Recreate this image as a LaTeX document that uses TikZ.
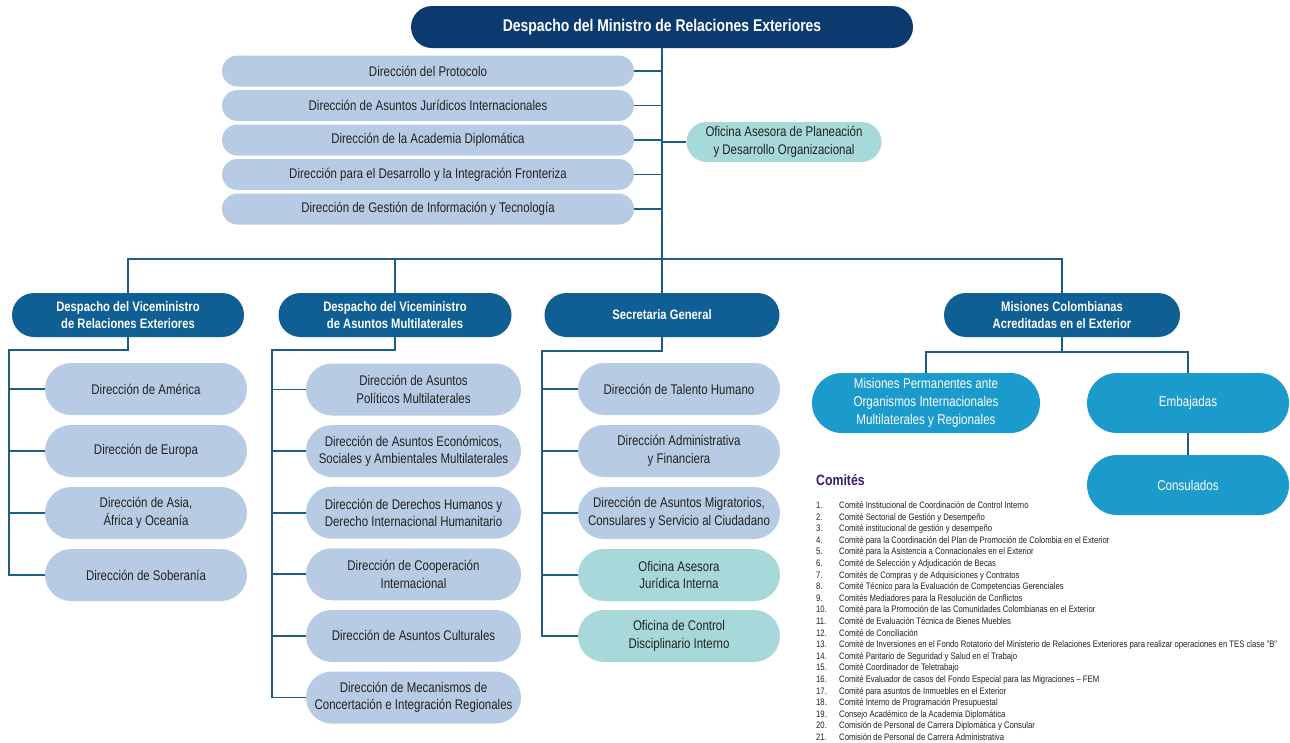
\documentclass[tikz,border=0pt]{standalone}
\usepackage{fontspec}
\setmainfont{Liberation Sans}[FakeStretch=0.82]
\usepackage{xcolor}
\usepackage{tikz}
\definecolor{navy}{HTML}{0B3A6E}
\definecolor{blueH}{HTML}{0F5E94}
\definecolor{paleB}{HTML}{B8CBE4}
\definecolor{tealA}{HTML}{A8D9DA}
\definecolor{cyanM}{HTML}{1B9BCB}
\definecolor{wire}{HTML}{1E5C86}
\definecolor{ink}{HTML}{222222}
\definecolor{comP}{HTML}{3A1C6E}
\tikzset{
  link/.style={draw=wire, line width=1.8pt},
  top/.style={rectangle, rounded corners=21pt, fill=navy, text=white, minimum width=502pt, minimum height=42pt, inner sep=0pt, font=\bfseries\fontsize{17}{20}\selectfont},
  head/.style={rectangle, rounded corners=22pt, fill=blueH, text=white, minimum width=233pt, minimum height=44pt, inner sep=0pt, align=center, font=\bfseries\fontsize{13.7}{17}\selectfont},
  staff/.style={rectangle, rounded corners=15.5pt, fill=paleB, text=ink, minimum width=412pt, minimum height=31pt, inner sep=0pt, font=\fontsize{14}{17}\selectfont},
  unit/.style={rectangle, rounded corners=26pt, fill=paleB, text=ink, minimum width=202pt, minimum height=52pt, inner sep=0pt, align=center, font=\fontsize{14}{17.5}\selectfont},
  advice/.style={unit, fill=tealA},
  mision/.style={unit, fill=cyanM, text=white, minimum height=60pt, rounded corners=30pt, font=\fontsize{14.2}{18.2}\selectfont},
  num/.style={anchor=base west, inner sep=0pt, text=ink, font=\fontsize{9.4}{11}\selectfont},
  comtitle/.style={anchor=base west, inner sep=0pt, text=comP, font=\bfseries\fontsize{15}{18}\selectfont}
}

\begin{document}
\begin{tikzpicture}[x=1pt,y=-1pt]
  \fill[white] (0,0) rectangle (1290,742);
  \useasboundingbox (0,0) rectangle (1290,742);

  % despacho del ministro y asesores
  \node[top] (min) at (662,27) {Despacho del Ministro de Relaciones Exteriores};
  \node[staff] (dProt) at (428,71) {Dirección del Protocolo};
  \node[staff] (dJur) at (428,105.5) {Dirección de Asuntos Jurídicos Internacionales};
  \node[staff] (dAcad) at (428,140) {Dirección de la Academia Diplomática};
  \node[staff] (dFront) at (428,174.5) {Dirección para el Desarrollo y la Integración Fronteriza};
  \node[staff] (dTic) at (428,209) {Dirección de Gestión de Información y Tecnología};
  \node[advice, minimum width=195pt, minimum height=40pt, rounded corners=20pt, font=\fontsize{14}{18.5}\selectfont] (oPlan) at (784,142) {Oficina Asesora de Planeación\\y Desarrollo Organizacional};

  % segundo nivel
  \node[head, minimum width=232pt] (vRE) at (128,315) {Despacho del Viceministro\\de Relaciones Exteriores};
  \node[head] (vMul) at (395,315) {Despacho del Viceministro\\de Asuntos Multilaterales};
  \node[head, minimum width=235pt] (sGen) at (662,315) {Secretaria General};
  \node[head, minimum width=236pt] (mis) at (1062,315) {Misiones Colombianas\\Acreditadas en el Exterior};

  \coordinate (bus) at (662,259);
  \draw[link] (min) -- (sGen);
  \draw[link] (vRE.north) |- (bus) -| (mis.north);
  \draw[link] (vMul.north) -- (vMul.north |- bus);
  \foreach \n in {dProt,dJur,dAcad,dFront,dTic}
    \draw[link] (\n.east) -- (\n.east -| min.south);
  \draw[link] (oPlan.west) -- (oPlan.west -| min.south);

  % viceministro de relaciones exteriores
  \node[unit] (dAme) at (146,389) {Dirección de América};
  \node[unit] (dEur) at (146,451) {Dirección de Europa};
  \node[unit] (dAsia) at (146,513) {Dirección de Asia,\\África y Oceanía};
  \node[unit] (dSob) at (146,575) {Dirección de Soberanía};
  \coordinate (spA) at (9,350);
  \draw[link] (vRE.south) |- (spA) |- (dSob.west);
  \foreach \n in {dAme,dEur,dAsia}
    \draw[link] (\n.west) -- (\n.west -| spA);

  % viceministro de asuntos multilaterales
  \node[unit, minimum width=215pt] (dPol) at (413.5,389.5) {Dirección de Asuntos\\Políticos Multilaterales};
  \node[unit, minimum width=215pt] (dEco) at (413.5,451.1) {Dirección de Asuntos Económicos,\\Sociales y Ambientales Multilaterales};
  \node[unit, minimum width=215pt] (dDH) at (413.5,512.7) {Dirección de Derechos Humanos y\\Derecho Internacional Humanitario};
  \node[unit, minimum width=215pt] (dCoop) at (413.5,574.3) {Dirección de Cooperación\\Internacional};
  \node[unit, minimum width=215pt] (dCult) at (413.5,635.9) {Dirección de Asuntos Culturales};
  \node[unit, minimum width=215pt] (dMec) at (413.5,697.5) {Dirección de Mecanismos de\\Concertación e Integración Regionales};
  \coordinate (spB) at (272,350);
  \draw[link] (vMul.south) |- (spB) |- (dMec.west);
  \foreach \n in {dPol,dEco,dDH,dCoop,dCult}
    \draw[link] (\n.west) -- (\n.west -| spB);

  % secretaria general
  \node[unit] (dTal) at (679,389) {Dirección de Talento Humano};
  \node[unit] (dAdm) at (679,451) {Dirección Administrativa\\y Financiera};
  \node[unit] (dMig) at (679,513) {Dirección de Asuntos Migratorios,\\Consulares y Servicio al Ciudadano};
  \node[advice] (oJur) at (679,575) {Oficina Asesora\\Jurídica Interna};
  \node[advice] (oDis) at (679,636) {Oficina de Control\\Disciplinario Interno};
  \coordinate (spC) at (542,351);
  \draw[link] (sGen.south) |- (spC) |- (oDis.west);
  \foreach \n in {dTal,dAdm,dMig,oJur}
    \draw[link] (\n.west) -- (\n.west -| spC);

  % misiones
  \node[mision, minimum width=228pt] (mPerm) at (926,403) {Misiones Permanentes ante\\Organismos Internacionales\\Multilaterales y Regionales};
  \node[mision] (emb) at (1188,403) {Embajadas};
  \node[mision] (cons) at (1188,485) {Consulados};
  \coordinate (misJ) at (1062,352);
  \draw[link] (mis) -- (misJ);
  \draw[link] (mPerm.north) |- (misJ) -| (emb.north);
  \draw[link] (emb) -- (cons);

  % comites
  \node[comtitle] (comT) at (816,485) {Comités};
  \foreach \txt [count=\i] in {Comité Institucional de Coordinación de Control Interno,
      Comité Sectorial de Gestión y Desempeño,
      Comité institucional de gestión y desempeño,
      Comité para la Coordinación del Plan de Promoción de Colombia en el Exterior,
      Comité para la Asistencia a Connacionales en el Exterior,
      Comité de Selección y Adjudicación de Becas,
      Comités de Compras y de Adquisiciones y Contratos,
      Comité Técnico para la Evaluación de Competencias Gerenciales,
      Comités Mediadores para la Resolución de Conflictos,
      Comité para la Promoción de las Comunidades Colombianas en el Exterior,
      Comité de Evaluación Técnica de Bienes Muebles,
      Comité de Conciliación,
      Comité de Inversiones en el Fondo Rotatorio del Ministerio de Relaciones Exteriores para realizar operaciones en TES clase "B",
      Comité Paritario de Seguridad y Salud en el Trabajo,
      Comité Coordinador de Teletrabajo,
      Comité Evaluador de casos del Fondo Especial para las Migraciones – FEM,
      Comité para asuntos de Inmuebles en el Exterior,
      Comité Interno de Programación Presupuestal,
      Consejo Académico de la Academia Diplomática,
      Comisión de Personal de Carrera Diplomática y Consular,
      Comisión de Personal de Carrera Administrativa}
  {
    \node[num] (n\i) at (816,{508.5+11.6*(\i-1)}) {\i.};
    \node[num] (c\i) at (839,{508.5+11.6*(\i-1)}) {\txt};
  }
\end{tikzpicture}
\end{document}
